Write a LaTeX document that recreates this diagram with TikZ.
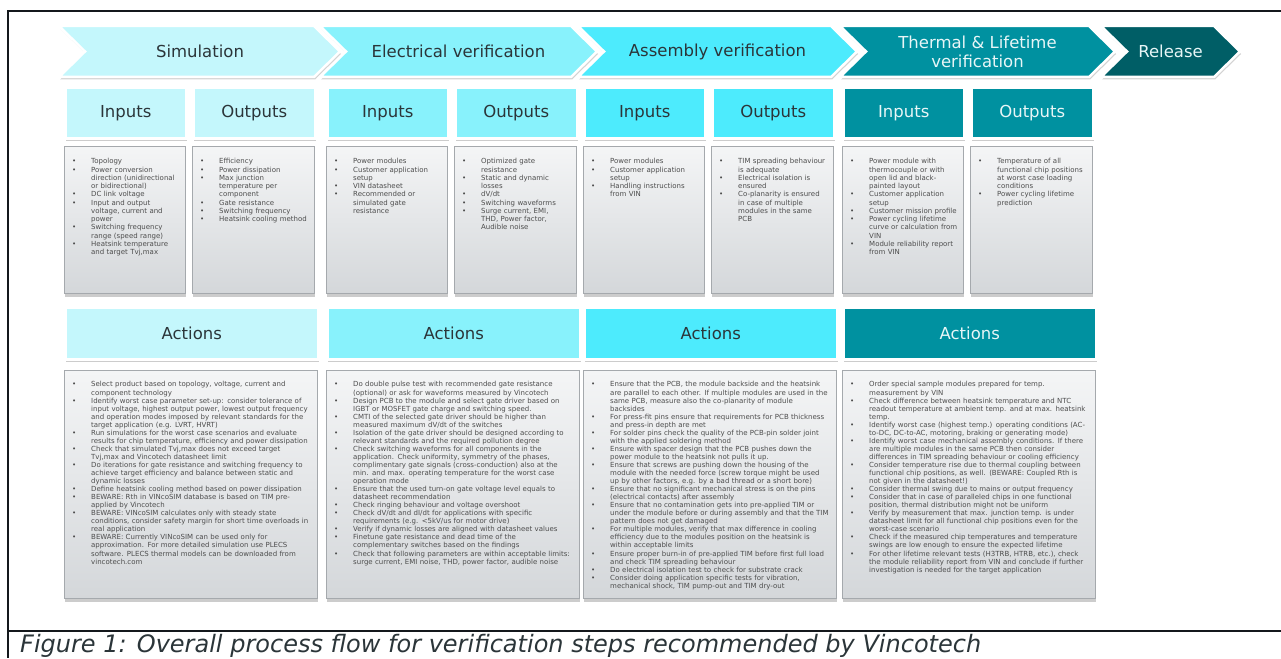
\documentclass[tikz,border=0pt]{standalone}
\usepackage{fontspec}
\setmainfont{DejaVu Sans}
\usetikzlibrary{shadows}
\definecolor{simcol}{HTML}{C4F7FC}
\definecolor{elecol}{HTML}{88F2FC}
\definecolor{asmcol}{HTML}{4DEBFD}
\definecolor{thmcol}{HTML}{0091A0}
\definecolor{relcol}{HTML}{005E66}
\definecolor{darktext}{HTML}{2B3539}
\definecolor{lighttext}{HTML}{E8F6F7}
\definecolor{boxtop}{HTML}{F4F5F6}
\definecolor{boxbot}{HTML}{D4D7DA}
\definecolor{boxline}{HTML}{A5A9AD}
\definecolor{bodytext}{HTML}{4D4D4D}
\definecolor{frameline}{HTML}{14181C}
\hyphenpenalty=10000
\newcommand{\itm}{\par\noindent\hangindent=27pt\hangafter=1\makebox[27pt][l]{\hspace{8pt}\textbullet}}
\newcommand{\nxt}{\newline}
\tikzstyle{frame} = [draw=frameline, line width=2.2pt]
\tikzstyle{chev} = [draw=white, line width=2.5pt, drop shadow={shadow xshift=1pt, shadow yshift=-2.5pt, opacity=0.35}]
\tikzstyle{stage} = [font=\fontsize{16.5}{19}\selectfont, align=center, inner sep=0pt, text=darktext]
\tikzstyle{head} = [anchor=north west, draw=white, line width=2.5pt, font=\fontsize{16.5}{19}\selectfont, text=darktext, drop shadow={shadow xshift=0.5pt, shadow yshift=-3pt, opacity=0.4}]
\tikzstyle{tbox} = [anchor=north west, draw=boxline, line width=1.2pt, top color=boxtop, bottom color=boxbot, drop shadow={shadow xshift=0.5pt, shadow yshift=-3pt, opacity=0.4}]
\tikzstyle{itxt} = [anchor=north west, inner sep=0pt, yshift=-9.5pt, align=left, text=bodytext, font=\fontsize{7}{8.25}\selectfont]
\tikzstyle{atxt} = [itxt, yshift=0.8pt, font=\fontsize{7}{8.05}\selectfont]

\begin{document}
\begin{tikzpicture}[x=1pt, y=-1pt]
  \useasboundingbox (0,0) rectangle (1281,658);
  \draw [frame] (1281,11) -- (8,11) -- (8,658);
  \draw [frame] (8,631) -- (1281,631);

  % process steps
  \draw [chev, fill=simcol] (59,26) -- (314,26) -- (340,51.5) -- (314,77) -- (59,77) -- (85,51.5) -- cycle;
  \draw [chev, fill=elecol] (320,26) -- (571,26) -- (597,51.5) -- (571,77) -- (320,77) -- (346,51.5) -- cycle;
  \draw [chev, fill=asmcol] (578,26) -- (831,26) -- (857,51.5) -- (831,77) -- (578,77) -- (604,51.5) -- cycle;
  \draw [chev, fill=thmcol] (840,26) -- (1089,26) -- (1115,51.5) -- (1089,77) -- (840,77) -- (866,51.5) -- cycle;
  \draw [chev, fill=relcol] (1101,26) -- (1214,26) -- (1240,51.5) -- (1214,77) -- (1101,77) -- (1127,51.5) -- cycle;
  \node (sim) at (200,51.5) [stage] {Simulation};
  \node (ele) at (458.5,51.5) [stage] {Electrical verification};
  \node (asm) at (717.5,51.5) [stage] {Assembly verification};
  \node (thm) at (977.5,52) [stage, text=lighttext] {Thermal \& Lifetime\\verification};
  \node (rel) at (1170.5,51.5) [stage, text=lighttext] {Release};

  % inputs / outputs headers
  \node (simInH) at (64,87) [head, fill=simcol, minimum width=121pt, minimum height=50pt] {Inputs};
  \node (simOutH) at (192,87) [head, fill=simcol, minimum width=122pt, minimum height=50pt] {Outputs};
  \node (eleInH) at (326,87) [head, fill=elecol, minimum width=121pt, minimum height=50pt] {Inputs};
  \node (eleOutH) at (454,87) [head, fill=elecol, minimum width=122pt, minimum height=50pt] {Outputs};
  \node (asmInH) at (583,87) [head, fill=asmcol, minimum width=121pt, minimum height=50pt] {Inputs};
  \node (asmOutH) at (711,87) [head, fill=asmcol, minimum width=122pt, minimum height=50pt] {Outputs};
  \node (thmInH) at (842,87) [head, fill=thmcol, text=lighttext, minimum width=121pt, minimum height=50pt] {Inputs};
  \node (thmOutH) at (970,87) [head, fill=thmcol, text=lighttext, minimum width=122pt, minimum height=50pt] {Outputs};

  % inputs / outputs lists
  \node (simIn) at (64,146) [tbox, minimum width=121pt, minimum height=147pt] {};
  \node (simOut) at (192,146) [tbox, minimum width=122pt, minimum height=147pt] {};
  \node (eleIn) at (326,146) [tbox, minimum width=121pt, minimum height=147pt] {};
  \node (eleOut) at (454,146) [tbox, minimum width=122pt, minimum height=147pt] {};
  \node (asmIn) at (583,146) [tbox, minimum width=121pt, minimum height=147pt] {};
  \node (asmOut) at (711,146) [tbox, minimum width=122pt, minimum height=147pt] {};
  \node (thmIn) at (842,146) [tbox, minimum width=121pt, minimum height=147pt] {};
  \node (thmOut) at (970,146) [tbox, minimum width=122pt, minimum height=147pt] {};

  \node (simInT) at (simIn.north west) [itxt, text width=140pt] {%
    \itm Topology
    \itm Power conversion\nxt direction (unidirectional\nxt or bidirectional)
    \itm DC link voltage
    \itm Input and output\nxt voltage, current and\nxt power
    \itm Switching frequency\nxt range (speed range)
    \itm Heatsink temperature\nxt and target Tvj,max\par};
  \node (simOutT) at (simOut.north west) [itxt, text width=140pt] {%
    \itm Efficiency
    \itm Power dissipation
    \itm Max junction\nxt temperature per\nxt component
    \itm Gate resistance
    \itm Switching frequency
    \itm Heatsink cooling method\par};
  \node (eleInT) at (eleIn.north west) [itxt, text width=140pt] {%
    \itm Power modules
    \itm Customer application\nxt setup
    \itm VIN datasheet
    \itm Recommended or\nxt simulated gate\nxt resistance\par};
  \node (eleOutT) at (eleOut.north west) [itxt, text width=140pt] {%
    \itm Optimized gate\nxt resistance
    \itm Static and dynamic\nxt losses
    \itm dV/dt
    \itm Switching waveforms
    \itm Surge current, EMI,\nxt THD, Power factor,\nxt Audible noise\par};
  \node (asmInT) at (asmIn.north west) [itxt, text width=140pt] {%
    \itm Power modules
    \itm Customer application\nxt setup
    \itm Handling instructions\nxt from VIN\par};
  \node (asmOutT) at (asmOut.north west) [itxt, text width=140pt] {%
    \itm TIM spreading behaviour\nxt is adequate
    \itm Electrical isolation is\nxt ensured
    \itm Co-planarity is ensured\nxt in case of multiple\nxt modules in the same\nxt PCB\par};
  \node (thmInT) at (thmIn.north west) [itxt, text width=140pt] {%
    \itm Power module with\nxt thermocouple or with\nxt open lid and black-\nxt painted layout
    \itm Customer application\nxt setup
    \itm Customer mission profile
    \itm Power cycling lifetime\nxt curve or calculation from\nxt VIN
    \itm Module reliability report\nxt from VIN\par};
  \node (thmOutT) at (thmOut.north west) [itxt, text width=140pt] {%
    \itm Temperature of all\nxt functional chip positions\nxt at worst case loading\nxt conditions
    \itm Power cycling lifetime\nxt prediction\par};

  % actions headers
  \node (simActH) at (64,306) [head, fill=simcol, minimum width=253pt, minimum height=52pt] {Actions};
  \node (eleActH) at (326,306) [head, fill=elecol, minimum width=253pt, minimum height=52pt] {Actions};
  \node (asmActH) at (583,306) [head, fill=asmcol, minimum width=253pt, minimum height=52pt] {Actions};
  \node (thmActH) at (842,306) [head, fill=thmcol, text=lighttext, minimum width=253pt, minimum height=52pt] {Actions};

  % actions lists
  \node (simAct) at (64,370) [tbox, minimum width=253pt, minimum height=228pt] {};
  \node (eleAct) at (326,370) [tbox, minimum width=253pt, minimum height=228pt] {};
  \node (asmAct) at (583,370) [tbox, minimum width=253pt, minimum height=228pt] {};
  \node (thmAct) at (842,370) [tbox, minimum width=253pt, minimum height=228pt] {};

  \node (simActT) at (simAct.north west) [atxt, text width=300pt] {%
    \itm Select product based on topology, voltage, current and\nxt component technology
    \itm Identify worst case parameter set-up: consider tolerance of\nxt input voltage, highest output power, lowest output frequency\nxt and operation modes imposed by relevant standards for the\nxt target application (e.g. LVRT, HVRT)
    \itm Run simulations for the worst case scenarios and evaluate\nxt results for chip temperature, efficiency and power dissipation
    \itm Check that simulated Tvj,max does not exceed target\nxt Tvj,max and Vincotech datasheet limit
    \itm Do iterations for gate resistance and switching frequency to\nxt achieve target efficiency and balance between static and\nxt dynamic losses
    \itm Define heatsink cooling method based on power dissipation
    \itm BEWARE: Rth in VINcoSIM database is based on TIM pre-\nxt applied by Vincotech
    \itm BEWARE: VINcoSIM calculates only with steady state\nxt conditions, consider safety margin for short time overloads in\nxt real application
    \itm BEWARE: Currently VINcoSIM can be used only for\nxt approximation. For more detailed simulation use PLECS\nxt software. PLECS thermal models can be downloaded from\nxt vincotech.com\par};
  \node (eleActT) at (eleAct.north west) [atxt, text width=300pt] {%
    \itm Do double pulse test with recommended gate resistance\nxt (optional) or ask for waveforms measured by Vincotech
    \itm Design PCB to the module and select gate driver based on\nxt IGBT or MOSFET gate charge and switching speed.
    \itm CMTI of the selected gate driver should be higher than\nxt measured maximum dV/dt of the switches
    \itm Isolation of the gate driver should be designed according to\nxt relevant standards and the required pollution degree
    \itm Check switching waveforms for all components in the\nxt application. Check uniformity, symmetry of the phases,\nxt complimentary gate signals (cross-conduction) also at the\nxt min. and max. operating temperature for the worst case\nxt operation mode
    \itm Ensure that the used turn-on gate voltage level equals to\nxt datasheet recommendation
    \itm Check ringing behaviour and voltage overshoot
    \itm Check dV/dt and dI/dt for applications with specific\nxt requirements (e.g. <5kV/us for motor drive)
    \itm Verify if dynamic losses are aligned with datasheet values
    \itm Finetune gate resistance and dead time of the\nxt complementary switches based on the findings
    \itm Check that following parameters are within acceptable limits:\nxt surge current, EMI noise, THD, power factor, audible noise\par};
  \node (asmActT) at (asmAct.north west) [atxt, text width=300pt] {%
    \itm Ensure that the PCB, the module backside and the heatsink\nxt are parallel to each other. If multiple modules are used in the\nxt same PCB, measure also the co-planarity of module\nxt backsides
    \itm For press-fit pins ensure that requirements for PCB thickness\nxt and press-in depth are met
    \itm For solder pins check the quality of the PCB-pin solder joint\nxt with the applied soldering method
    \itm Ensure with spacer design that the PCB pushes down the\nxt power module to the heatsink not pulls it up.
    \itm Ensure that screws are pushing down the housing of the\nxt module with the needed force (screw torque might be used\nxt up by other factors, e.g. by a bad thread or a short bore)
    \itm Ensure that no significant mechanical stress is on the pins\nxt (electrical contacts) after assembly
    \itm Ensure that no contamination gets into pre-applied TIM or\nxt under the module before or during assembly and that the TIM\nxt pattern does not get damaged
    \itm For multiple modules, verify that max difference in cooling\nxt efficiency due to the modules position on the heatsink is\nxt within acceptable limits
    \itm Ensure proper burn-in of pre-applied TIM before first full load\nxt and check TIM spreading behaviour
    \itm Do electrical isolation test to check for substrate crack
    \itm Consider doing application specific tests for vibration,\nxt mechanical shock, TIM pump-out and TIM dry-out\par};
  \node (thmActT) at (thmAct.north west) [atxt, text width=300pt] {%
    \itm Order special sample modules prepared for temp.\nxt measurement by VIN
    \itm Check difference between heatsink temperature and NTC\nxt readout temperature at ambient temp. and at max. heatsink\nxt temp.
    \itm Identify worst case (highest temp.) operating conditions (AC-\nxt to-DC, DC-to-AC, motoring, braking or generating mode)
    \itm Identify worst case mechanical assembly conditions. If there\nxt are multiple modules in the same PCB then consider\nxt differences in TIM spreading behaviour or cooling efficiency
    \itm Consider temperature rise due to thermal coupling between\nxt functional chip positions, as well. (BEWARE: Coupled Rth is\nxt not given in the datasheet!)
    \itm Consider thermal swing due to mains or output frequency
    \itm Consider that in case of paralleled chips in one functional\nxt position, thermal distribution might not be uniform
    \itm Verify by measurement that max. junction temp. is under\nxt datasheet limit for all functional chip positions even for the\nxt worst-case scenario
    \itm Check if the measured chip temperatures and temperature\nxt swings are low enough to ensure the expected lifetime
    \itm For other lifetime relevant tests (H3TRB, HTRB, etc.), check\nxt the module reliability report from VIN and conclude if further\nxt investigation is needed for the target application\par};

  % caption
  \node (cap) at (20,652) [anchor=base west, inner sep=0pt, text=darktext, font=\fontsize{24}{26}\selectfont\itshape] {Figure 1: Overall process flow for verification steps recommended by Vincotech};
\end{tikzpicture}
\end{document}
